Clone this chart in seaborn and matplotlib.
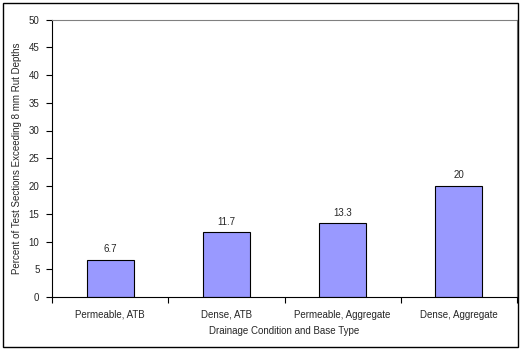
import pandas as pd
import seaborn as sns
import matplotlib.pyplot as plt
from matplotlib.patches import Rectangle

# data
categories = ['Permeable, ATB', 'Dense, ATB', 'Permeable, Aggregate', 'Dense, Aggregate']
percent = [6.7, 11.7, 13.3, 20]
value_labels = ['6.7', '11.7', '13.3', '20']

df = pd.DataFrame({'Condition': categories, 'Percent': percent})

sns.set_style("white")
plt.rcParams['font.family'] = ['Liberation Sans', 'DejaVu Sans']
fs = 7

fig = plt.figure(figsize=(5.28, 3.51), dpi=100)
ax = fig.add_axes([52/528, 54/351, 465/528, 277.5/351])

sns.barplot(data=df, x='Condition', y='Percent', color='#9999FF',
            edgecolor='black', linewidth=0.8, width=0.405, saturation=1, ax=ax)
ax.bar_label(ax.containers[0], labels=value_labels, padding=4, fontsize=fs)

ax.set_xlim(-0.5, 3.5)
ax.set_ylim(0, 50)
ax.set_yticks(range(0, 51, 5))
ax.tick_params(axis='y', which='major', length=4, width=0.8, direction='out',
               labelsize=fs, left=True, pad=5, color='black')
ax.tick_params(axis='x', which='major', length=0, labelsize=fs, pad=9)
ax.set_xticks([-0.5, 0.5, 1.5, 2.5, 3.5], minor=True)
ax.tick_params(axis='x', which='minor', length=4, width=0.8, direction='out',
               bottom=True, color='black')

ax.set_xlabel('Drainage Condition and Base Type', fontsize=fs, labelpad=5)
ax.set_ylabel('Percent of Test Sections Exceeding 8 mm Rut Depths', fontsize=fs, labelpad=5)

for side in ['left', 'bottom']:
    ax.spines[side].set_color('black')
    ax.spines[side].set_linewidth(0.8)
for side in ['top', 'right']:
    ax.spines[side].set_color('#808080')
    ax.spines[side].set_linewidth(0.8)

# outer chart border
fig.patches.append(Rectangle((3/528, 4/351), 515/528, 344/351, transform=fig.transFigure,
                             fill=False, edgecolor='black', linewidth=1))

fig.savefig('out.png', dpi=100)
